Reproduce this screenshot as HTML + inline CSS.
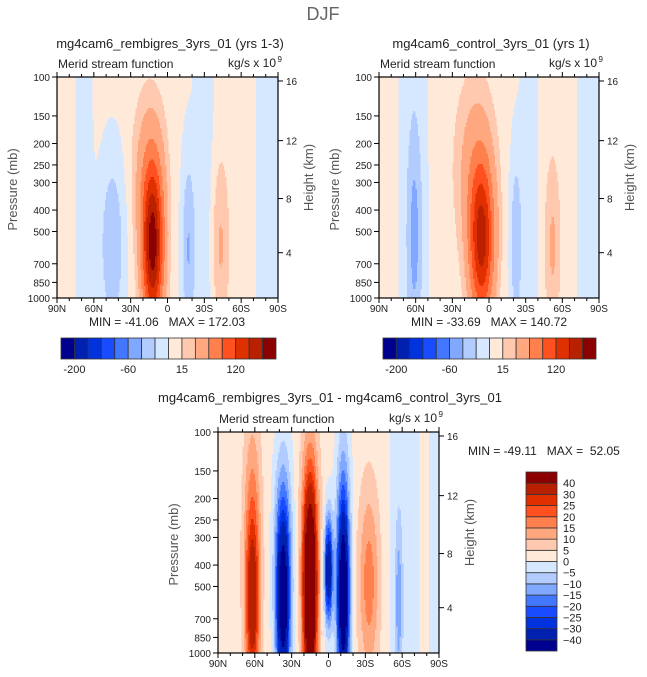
<!DOCTYPE html>
<html><head><meta charset="utf-8"><style>
body{margin:0;background:#fff}
svg{display:block}
text{font-family:"Liberation Sans",sans-serif;fill:#222;white-space:pre}
</style></head><body>
<svg id="s" width="647" height="677" xmlns="http://www.w3.org/2000/svg">
<text x="323" y="20" font-size="18" text-anchor="middle" style="fill:#666">DJF</text>
</svg>
<script>
// ---- data ----
const colors = ["#00008F","#0020B0","#0033DD","#1A4CFF","#4477FF","#80A8FF","#B3CCFF","#D6E8FF","#FFE9D9","#FFC9B0","#FFA880","#FF7F4D","#FF5020","#E03000","#B82000","#8B0000"];
const boundsTop = [-200,-150,-100,-80,-60,-40,-20,0,15,30,60,90,120,150,180];
const boundsDiff = [-40,-30,-25,-20,-15,-10,-5,0,5,10,15,20,25,30,40];
const pressureTicks = [100,150,200,250,300,400,500,700,850,1000];
const latTicks = [90,60,30,0,-30,-60,-90];
const latLabels = ["90N","60N","30N","0","30S","60S","90S"];
const heightTicks = [16,12,8,4];
const heightFrac = [0.018,0.288,0.550,0.795];
// blobs: lat (N+), pressure center, amplitude, lat width, log10-p width
const p1Lat = [12,15,45,68,-17,-30,-43,-82];
const p1P   = [600,280,580,500,600,500,580,500];
const p1Amp = [180,40,-45,-14,-45,-14,28,-14];
const p1WLat= [6,9,7,5,4,6,5,7];
const p1WP  = [0.25,0.25,0.28,9,0.3,9,0.28,9];
const p1Base = 5;
const p2Lat = [6,12,61,62,-22,-33,-52,-82];
const p2P   = [560,260,520,500,560,400,580,500];
const p2Amp = [150,35,-40,-14,-40,-14,28,-14];
const p2WLat= [7,11,4.5,8,3.5,5,4.5,7];
const p2WP  = [0.25,0.28,0.35,9,0.3,9,0.28,9];
const p2Base = 5;
const p3Lat = [62,62,37,37,15,15,0,-12,-12,-33,-57,-62,-88];
const p3P   = [650,250,650,300,600,250,420,620,250,480,580,500,500];
const p3Amp = [30,14,-45,-18,58,20,-42,-52,-18,16,-12,-5,-5];
const p3WLat= [4,5,4,5,4,5,2.5,3.5,4,6,2,9,4];
const p3WP  = [0.27,0.35,0.27,0.3,0.3,0.3,0.17,0.27,0.3,0.3,0.25,9,9];
const p3Base = 2;

const NS="http://www.w3.org/2000/svg";
const svg=document.getElementById('s');
function el(tag,attrs,parent){const e=document.createElementNS(NS,tag);for(const k in attrs)e.setAttribute(k,attrs[k]);(parent||svg).appendChild(e);return e;}
function txt(x,y,s,size,anchor,parent,extra){const t=el('text',Object.assign({x:x,y:y,'font-size':size,'text-anchor':anchor||'middle'},extra||{}),parent);t.textContent=s;return t;}

function panel(cfg){
  const g=el('g',{});
  
  
  const L=cfg.L,T=cfg.T,W=cfg.W,H=cfg.H;
  const xS=lat=>L+(90-lat)/180*W;
  const yS=p=>T+Math.log10(p/100)*H;
  const field=(lat,p)=>{let v=cfg.base;for(let i=0;i<cfg.lat.length;i++){const dx=(lat-cfg.lat[i])/cfg.wl[i];const dy=(Math.log10(p)-Math.log10(cfg.p[i]))/cfg.wp[i];v+=cfg.amp[i]*Math.exp(-0.5*(dx*dx+dy*dy));}return v;};
  const colorOf=v=>{let k=0;while(k<cfg.bounds.length&&v>=cfg.bounds[k])k++;return colors[k];};
  const fg=el('g',{'shape-rendering':'crispEdges'},g);
  
  
  const nx=180,ny=150;
  for(let j=0;j<ny;j++){
    const f0=j/ny,f1=(j+1)/ny;
    const p0=100*Math.pow(10,f0),p1=100*Math.pow(10,f1),pc=100*Math.pow(10,(f0+f1)/2);
    let runStart=0,runCol=null;
    for(let i=0;i<=nx;i++){
      let c=null;
      if(i<nx){const la0=90-i/nx*180,la1=90-(i+1)/nx*180;c=colorOf(field((la0+la1)/2,pc));}
      if(c!==runCol){
        if(runCol!==null){
          const la0=90-runStart/nx*180,la1=90-i/nx*180;
          const r=el('rect',{x:xS(la0),y:yS(p0),width:xS(la1)-xS(la0)+0.5,height:yS(p1)-yS(p0)+0.5,fill:runCol},fg);
          
          
        }
        runStart=i;runCol=c;
      }
    }
  }
  const fr=el('rect',{x:L,y:T,width:W,height:H,fill:'none',stroke:'#000','stroke-width':1.2},g);
  
  
  pressureTicks.forEach(p=>{
    const y=yS(p);
    el('line',{x1:L-5,x2:L,y1:y,y2:y,stroke:'#000'},g);
    const t=txt(L-7,y+4,String(p),10,'end',g);
    
    
  });
  latTicks.forEach((lat,i)=>{
    const x=xS(lat);
    el('line',{x1:x,x2:x,y1:T+H,y2:T+H+5,stroke:'#000'},g);
    el('line',{x1:x,x2:x,y1:T,y2:T-5,stroke:'#000'},g);
    const t=txt(x,T+H+14,latLabels[i],10,'middle',g);
    
    
  });
  for(let lat=80;lat>-90;lat-=10){if(lat%30===0)continue;const x=xS(lat);
    el('line',{x1:x,x2:x,y1:T+H,y2:T+H+3,stroke:'#000'},g);el('line',{x1:x,x2:x,y1:T,y2:T-3,stroke:'#000'},g);}
  heightTicks.forEach((h,i)=>{
    const y=T+heightFrac[i]*H;
    el('line',{x1:L+W,x2:L+W+5,y1:y,y2:y,stroke:'#000'},g);
    const t=txt(L+W+8,y+4,String(h),10,'start',g);
    
    
  });
  const pt=txt(0,0,'Pressure (mb)',13,'middle',g,{transform:`translate(${L-40},${T+H/2+2}) rotate(-90)`,style:'fill:#555'});
  
  
  const ht=txt(0,0,'Height (km)',13,'middle',g,{transform:`translate(${L+W+35},${T+H/2-10}) rotate(-90)`,style:'fill:#555'});
  
  
  const mt=txt(L+1,T-9,'Merid stream function',12,'start',g);
  
  
  const ut=txt(L+W-2,T-10,'kg/s x 10',12,'end',g);
  
  
  txt(L+W+4,T-15,'9',8,'end',g);
  const tt=txt(cfg.tx,cfg.ty,cfg.title,13,'middle',g);
  
  
  const mm=txt(cfg.mx,cfg.my,cfg.minmax,12,cfg.manchor,g);
  
  
}

function hbar(x0,x1,y0,y1,labels,name){
  const g=el('g',{});
  
  
  const w=(x1-x0)/16;
  colors.forEach((c,i)=>{const r=el('rect',{x:x0+i*w,y:y0,width:w,height:y1-y0,fill:c,stroke:'#333','stroke-width':0.8},g);
    
    });
  labels.forEach((l,k)=>{const t=txt(x0+(1+4*k)*w,y1+14,l,11,'middle',g);
    
    });
}

panel({name:'panel-rembigres',L:57,T:77,W:221,H:221,lat:p1Lat,p:p1P,amp:p1Amp,wl:p1WLat,wp:p1WP,base:p1Base,bounds:boundsTop,
  title:'mg4cam6_rembigres_3yrs_01 (yrs 1-3)',tx:170,ty:48,minmax:'MIN = -41.06   MAX = 172.03',mx:167,my:326,manchor:'middle'});
panel({name:'panel-control',L:379,T:77,W:220,H:221,lat:p2Lat,p:p2P,amp:p2Amp,wl:p2WLat,wp:p2WP,base:p2Base,bounds:boundsTop,
  title:'mg4cam6_control_3yrs_01 (yrs 1)',tx:491,ty:48,minmax:'MIN = -33.69   MAX = 140.72',mx:489,my:326,manchor:'middle'});
panel({name:'panel-difference',L:218,T:432,W:221,H:221,lat:p3Lat,p:p3P,amp:p3Amp,wl:p3WLat,wp:p3WP,base:p3Base,bounds:boundsDiff,
  title:'mg4cam6_rembigres_3yrs_01 - mg4cam6_control_3yrs_01',tx:330,ty:402,minmax:'MIN = -49.11   MAX =  52.05',mx:468,my:455,manchor:'start'});
hbar(61,276,338,359,['-200','-60','15','120'],'colorbar-rembigres');
hbar(383,596,338,359,['-200','-60','15','120'],'colorbar-control');
(function(){
  const g=el('g',{});
  
  
  const x0=526,x1=557,y0=472,y1=651,h=(y1-y0)/16;
  colors.forEach((c,i)=>{const r=el('rect',{x:x0,y:y1-(i+1)*h,width:x1-x0,height:h,fill:c,stroke:'#333','stroke-width':0.8},g);
    
    });
  boundsDiff.forEach((b,i)=>{const t=txt(563,y1-(i+1)*h+4,String(b).replace('-','\u2212'),11,'start',g);
    
    });
})();
</script>
</body></html>
